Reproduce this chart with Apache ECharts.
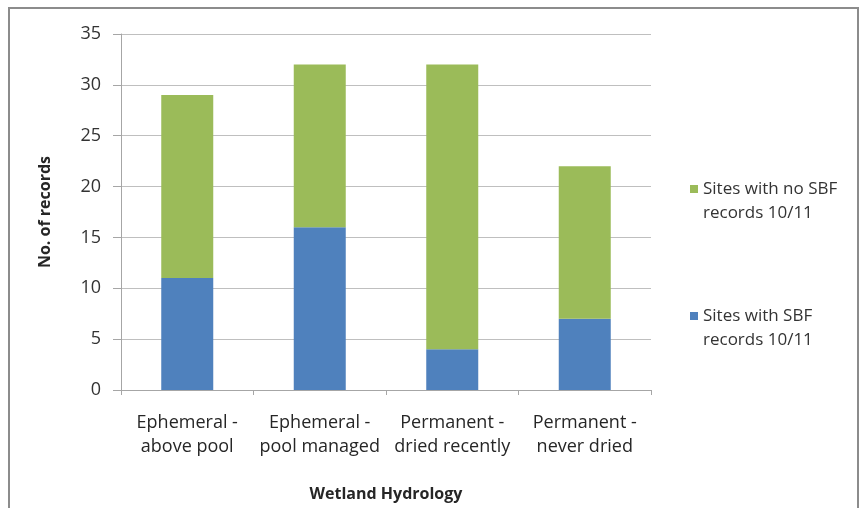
<!DOCTYPE html>
<html>
<head>
<meta charset="utf-8">
<script src="https://cdn.jsdelivr.net/npm/echarts@6/dist/echarts.min.js"></script>
<style>
  html, body { margin: 0; padding: 0; background: #fff; }
  #chart { width: 861px; height: 508px; }
</style>
</head>
<body>
<div id="chart"></div>
<script>
// Wetland hydrology categories and record counts per site group
const categories = [
  'Ephemeral -\nabove pool',
  'Ephemeral -\npool managed',
  'Permanent -\ndried recently',
  'Permanent -\nnever dried'
];
const withSBF = [11, 16, 4, 7];
const withoutSBF = [18, 16, 28, 15];
const yTicks = { min: 0, max: 35, interval: 5 };

const seriesNames = ['Sites with no SBF\nrecords 10/11', 'Sites with SBF\nrecords 10/11'];
const FONT = '"Open Sans", Lato, sans-serif';

// A blank leading line keeps the swatch level with the first text line
const legendText = { fontSize: 17, color: '#333', fontFamily: FONT, lineHeight: 24 };
const legendFormatter = name => '\u200b\n' + name;

const chart = echarts.init(document.getElementById('chart'), null, { renderer: 'canvas' });

chart.setOption({
  backgroundColor: '#ffffff',
  animation: false,
  textStyle: { fontFamily: FONT },
  graphic: [{
    type: 'rect',
    shape: { x: 9, y: 8, width: 849, height: 520 },
    style: { fill: 'none', stroke: '#8c8c8c', lineWidth: 2 },
    z: -1
  }],
  grid: { left: 121, top: 34, right: 210, bottom: 118, containLabel: false },
  legend: [{
    data: [seriesNames[0]],
    left: 690, top: 153, padding: 0,
    orient: 'vertical',
    itemWidth: 8, itemHeight: 8, itemGap: 6,
    icon: 'rect',
    formatter: legendFormatter,
    textStyle: legendText,
    selectedMode: false
  }, {
    data: [seriesNames[1]],
    left: 690, top: 280, padding: 0,
    orient: 'vertical',
    itemWidth: 8, itemHeight: 8, itemGap: 6,
    icon: 'rect',
    formatter: legendFormatter,
    textStyle: legendText,
    selectedMode: false
  }],
  xAxis: {
    type: 'category',
    data: categories,
    name: 'Wetland Hydrology',
    nameLocation: 'middle',
    nameGap: 96,
    nameTextStyle: { fontSize: 16, fontWeight: 'bold', color: '#262626', fontFamily: FONT },
    axisLine: { lineStyle: { color: '#a6a6a6', width: 1 } },
    axisTick: { show: true, length: 5, alignWithLabel: false, lineStyle: { color: '#a6a6a6' } },
    axisLabel: { fontSize: 18, color: '#262626', lineHeight: 24, margin: 21, interval: 0, fontFamily: FONT }
  },
  yAxis: {
    type: 'value',
    min: yTicks.min, max: yTicks.max, interval: yTicks.interval,
    name: 'No. of records',
    nameLocation: 'middle',
    nameGap: 68,
    nameTextStyle: { fontSize: 16, fontWeight: 'bold', color: '#262626', fontFamily: FONT },
    axisLine: { show: true, lineStyle: { color: '#a6a6a6', width: 1 } },
    axisTick: { show: true, length: 8, lineStyle: { color: '#a6a6a6' } },
    axisLabel: { fontSize: 18, color: '#333', margin: 20, fontFamily: FONT },
    splitLine: { show: true, lineStyle: { color: '#bfbfbf', width: 1 } }
  },
  series: [{
    name: seriesNames[1],
    type: 'bar',
    stack: 'total',
    data: withSBF,
    barWidth: 52,
    itemStyle: { color: '#4f81bd' }
  }, {
    name: seriesNames[0],
    type: 'bar',
    stack: 'total',
    data: withoutSBF,
    barWidth: 52,
    itemStyle: { color: '#9bbb59' }
  }]
});
</script>
</body>
</html>
